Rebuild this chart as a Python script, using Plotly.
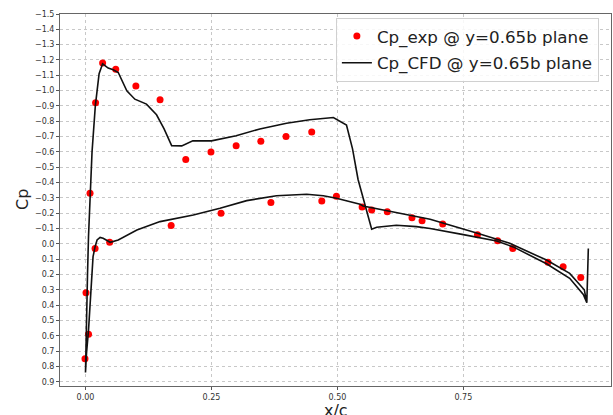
import plotly.graph_objects as go

# Experimental Cp points (x/c, Cp)
exp_x = [-0.001, 0.006, 0.001, 0.009, 0.020, 0.034, 0.060, 0.100, 0.148, 0.199,
         0.249, 0.299, 0.348, 0.398, 0.449, 0.019, 0.048, 0.170, 0.269, 0.368,
         0.469, 0.498, 0.549, 0.568, 0.599, 0.648, 0.668, 0.709, 0.778, 0.818,
         0.848, 0.918, 0.948, 0.983]
exp_cp = [0.75, 0.59, 0.32, -0.33, -0.92, -1.18, -1.14, -1.03, -0.94, -0.55,
          -0.60, -0.64, -0.67, -0.70, -0.73, 0.03, -0.01, -0.12, -0.20, -0.27,
          -0.28, -0.31, -0.24, -0.22, -0.21, -0.17, -0.15, -0.13, -0.06, -0.02,
          0.03, 0.12, 0.15, 0.22]

# CFD upper surface (trailing edge -> leading edge)
cfd_up_x = [0.998, 0.995, 0.988, 0.961, 0.915, 0.849, 0.816, 0.778, 0.750, 0.684,
            0.657, 0.617, 0.578, 0.568, 0.555, 0.541, 0.530, 0.518, 0.492, 0.445,
            0.399, 0.346, 0.299, 0.250, 0.213, 0.191, 0.171, 0.156, 0.141, 0.121,
            0.098, 0.082, 0.065, 0.055, 0.045, 0.034, 0.027, 0.0195, 0.013, 0.009,
            0.006, 0.004, 0.002, 0.000]
cfd_up_cp = [0.03, 0.385, 0.33, 0.225, 0.130, 0.020, -0.018, -0.045, -0.060, -0.100,
             -0.112, -0.121, -0.108, -0.095, -0.25, -0.42, -0.62, -0.776, -0.824, -0.810,
             -0.787, -0.750, -0.705, -0.672, -0.672, -0.639, -0.641, -0.75, -0.842, -0.912,
             -0.944, -0.999, -1.118, -1.136, -1.147, -1.175, -1.11, -0.90, -0.60, -0.33,
             -0.05, 0.20, 0.55, 0.84]

# CFD lower surface (leading edge -> trailing edge)
cfd_lo_x = [0.000, 0.002, 0.006, 0.009, 0.012, 0.015, 0.019, 0.023, 0.029, 0.035,
            0.049, 0.065, 0.102, 0.148, 0.214, 0.267, 0.320, 0.379, 0.439, 0.472,
            0.498, 0.545, 0.551, 0.684, 0.778, 0.842, 0.915, 0.961, 0.990, 0.995]
cfd_lo_cp = [0.84, 0.716, 0.563, 0.389, 0.215, 0.084, 0.019, -0.025, -0.042, -0.036,
             -0.010, -0.025, -0.090, -0.145, -0.188, -0.232, -0.282, -0.314, -0.324, -0.314,
             -0.297, -0.258, -0.247, -0.160, -0.069, -0.003, 0.106, 0.193, 0.300, 0.385]

cfd_x = cfd_up_x + cfd_lo_x
cfd_cp = cfd_up_cp + cfd_lo_cp

x_ticks = [0.0, 0.25, 0.5, 0.75]
x_tick_labels = ["0.00", "0.25", "0.50", "0.75"]

fig = go.Figure()
fig.add_trace(go.Scatter(
    x=exp_x, y=exp_cp, mode="markers", name="Cp_exp @ y=0.65b plane",
    legendgroup="exp",
    marker=dict(color="#ff0000", size=7, line=dict(width=0)),
))
fig.add_trace(go.Scatter(
    x=cfd_x, y=cfd_cp, mode="lines", name="Cp_CFD @ y=0.65b plane",
    legendgroup="cfd",
    line=dict(color="#111111", width=1.6),
))

fig.update_layout(
    width=613, height=415,
    margin=dict(l=60, r=2, t=14, b=29),
    paper_bgcolor="white", plot_bgcolor="white",
    font=dict(family="DejaVu Sans", color="#333333"),
    showlegend=True,
    legend=dict(
        x=0.978, y=0.99, xanchor="right", yanchor="top",
        bgcolor="rgba(255,255,255,0.85)", bordercolor="#d0d0d0", borderwidth=1,
        font=dict(size=16.7, color="#222222", family="DejaVu Sans"),
        tracegroupgap=2,
    ),
    annotations=[
        dict(text="x/c", xref="paper", yref="paper", x=0.5, y=0, yshift=-24,
             xanchor="center", yanchor="middle", showarrow=False,
             font=dict(size=16, color="#222222", family="DejaVu Sans")),
        dict(text="Cp", xref="paper", yref="paper", x=0, y=0.5, xshift=-38,
             xanchor="center", yanchor="middle", showarrow=False, textangle=-90,
             font=dict(size=16, color="#222222", family="DejaVu Sans")),
    ],
)

fig.update_xaxes(
    range=[-0.0506, 1.043],
    tickvals=x_ticks, ticktext=x_tick_labels,
    tickfont=dict(size=8, color="#333333"),
    ticks="outside", ticklen=3, tickcolor="#555555",
    showgrid=True, gridcolor="#c8c8c8", griddash="dot", gridwidth=1,
    showline=True, linecolor="#666666", linewidth=1, mirror=True,
    zeroline=False,
)
fig.update_yaxes(
    range=[0.928, -1.5],
    tick0=-1.5, dtick=0.1, tickformat=".1f",
    tickfont=dict(size=8, color="#333333"),
    ticks="outside", ticklen=3, tickcolor="#555555",
    showgrid=True, gridcolor="#c8c8c8", griddash="dot", gridwidth=1,
    showline=True, linecolor="#666666", linewidth=1, mirror=True,
    zeroline=False,
)

fig.write_html("out.html")
